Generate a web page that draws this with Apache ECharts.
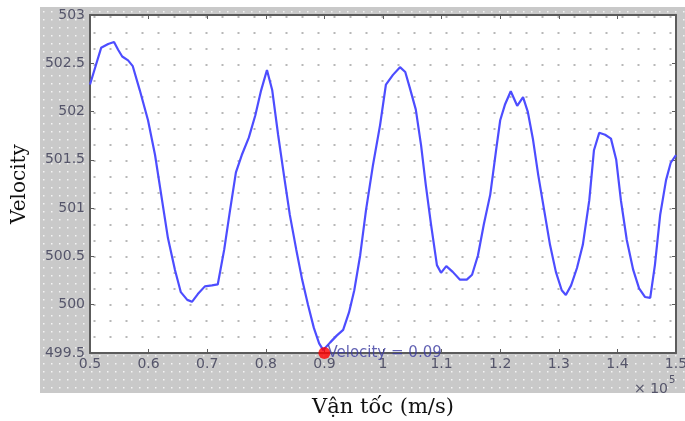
<!DOCTYPE html>
<html>
<head>
<meta charset="utf-8">
<script src="https://cdn.jsdelivr.net/npm/echarts@6/dist/echarts.min.js"></script>
<style>
  html, body { margin: 0; padding: 0; background: #ffffff; }
  #chart { width: 685px; height: 421px; }
</style>
</head>
<body>
<div id="chart"></div>
<script>
// Position (x 10^5) of each sample
const positions = [
  0.500, 0.510, 0.519, 0.531, 0.541, 0.548, 0.555, 0.565, 0.573, 0.585,
  0.599, 0.611, 0.623, 0.633, 0.645, 0.655, 0.666, 0.674, 0.684, 0.696,
  0.708, 0.718, 0.729, 0.739, 0.749, 0.759, 0.771, 0.782, 0.792, 0.802,
  0.811, 0.821, 0.831, 0.841, 0.852, 0.862, 0.872, 0.882, 0.891, 0.898,
  0.910, 0.921, 0.932, 0.942, 0.951, 0.961, 0.971, 0.983, 0.995, 1.005,
  1.017, 1.029, 1.038, 1.046, 1.056, 1.065, 1.073, 1.082, 1.092, 1.099,
  1.108, 1.119, 1.131, 1.143, 1.152, 1.162, 1.172, 1.183, 1.193, 1.200,
  1.208, 1.218, 1.229, 1.239, 1.247, 1.256, 1.265, 1.275, 1.285, 1.295,
  1.305, 1.312, 1.321, 1.331, 1.341, 1.352, 1.360, 1.369, 1.379, 1.389,
  1.398, 1.406, 1.416, 1.427, 1.437, 1.447, 1.456, 1.464, 1.473, 1.483,
  1.491, 1.500
];

// Velocity at each sample
const velocity = [
  502.28, 502.48, 502.66, 502.70, 502.72, 502.64, 502.57, 502.53, 502.47, 502.22,
  501.91, 501.55, 501.08, 500.69, 500.36, 500.13, 500.05, 500.03, 500.11, 500.19,
  500.20, 500.21, 500.57, 500.98, 501.37, 501.55, 501.73, 501.96, 502.22, 502.43,
  502.22, 501.76, 501.34, 500.93, 500.57, 500.26, 500.00, 499.76, 499.60, 499.53,
  499.61, 499.68, 499.74, 499.92, 500.15, 500.51, 500.98, 501.45, 501.86, 502.28,
  502.38, 502.46, 502.41, 502.24, 502.02, 501.65, 501.24, 500.83, 500.41, 500.33,
  500.40, 500.34, 500.26, 500.26, 500.31, 500.51, 500.83, 501.14, 501.60, 501.91,
  502.07, 502.21, 502.06, 502.15, 502.00, 501.71, 501.34, 500.98, 500.62, 500.34,
  500.15, 500.10, 500.20, 500.38, 500.62, 501.08, 501.60, 501.78, 501.76, 501.72,
  501.50, 501.08, 500.67, 500.36, 500.17, 500.08, 500.07, 500.41, 500.93, 501.29,
  501.47, 501.55
];

// Axis ranges and tick spacing
const xMin = 0.5, xMax = 1.5, xStep = 0.1;
const yMin = 499.5, yMax = 503, yStep = 0.5;

// Data cursor
const cursorPoint = [0.9, 499.5];
const cursorValue = 0.09;

const xTitle = 'Vận tốc (m/s)';
const yTitle = 'Velocity';

// Small repeating dot textures for the panels
function dotPattern(size, dx, dy, dotSize, bg, dot) {
  const c = document.createElement('canvas');
  c.width = size; c.height = size;
  const g = c.getContext('2d');
  g.fillStyle = bg;
  g.fillRect(0, 0, size, size);
  g.fillStyle = dot;
  g.fillRect(dx, dy, dotSize, dotSize);
  return { type: 'pattern', image: c, repeat: 'repeat' };
}

const plotTexture = dotPattern(16, 13.5, 0, 2, '#ffffff', '#b8b8b8');
const frameTexture = dotPattern(8, 3, 3, 1.5, '#c9c9c9', '#f4f4f4');

const tickFont = 'DejaVu Sans, Verdana, sans-serif';
const titleFont = 'DejaVu Serif, Liberation Serif, serif';
const tickColor = '#55556a';
const axisColor = '#5c5c5c';

const chart = echarts.init(document.getElementById('chart'), null, { renderer: 'canvas' });

const series = positions.map((x, i) => [x, velocity[i]]);

chart.setOption({
  backgroundColor: '#ffffff',
  animation: false,
  graphic: [
    {
      type: 'rect',
      z: -10,
      silent: true,
      shape: { x: 40, y: 7, width: 645, height: 386 },
      style: { fill: frameTexture }
    },
    {
      type: 'text',
      z: 10,
      left: 634,
      top: 375,
      style: {
        text: '{b|× 10}{s|5}',
        rich: {
          b: { fontFamily: tickFont, fontSize: 14, fill: tickColor, verticalAlign: 'bottom', padding: [7, 0, 0, 0] },
          s: { fontFamily: tickFont, fontSize: 10, fill: tickColor, verticalAlign: 'top', padding: [0, 0, 9, 1] }
        }
      }
    }
  ],
  grid: {
    left: 90, right: 9, top: 15, bottom: 68,
    outerBoundsMode: 'none',
    containLabel: false,
    show: true,
    backgroundColor: plotTexture,
    borderWidth: 0
  },
  xAxis: [
    {
      type: 'value',
      min: xMin, max: xMax, interval: xStep,
      position: 'bottom',
      name: xTitle,
      nameLocation: 'middle',
      nameGap: 44,
      nameTextStyle: { fontFamily: titleFont, fontSize: 21, color: '#111111' },
      axisLine: { show: true, onZero: false, lineStyle: { color: axisColor, width: 2 } },
      axisTick: { show: true, inside: true, length: 4, lineStyle: { color: axisColor } },
      axisLabel: { color: tickColor, fontSize: 14, fontFamily: tickFont, margin: 4 },
      splitLine: { show: false }
    },
    {
      type: 'value',
      min: xMin, max: xMax, interval: xStep,
      position: 'top',
      axisLine: { show: true, onZero: false, lineStyle: { color: axisColor, width: 2 } },
      axisTick: { show: true, inside: true, length: 4, lineStyle: { color: axisColor } },
      axisLabel: { show: false },
      splitLine: { show: false }
    }
  ],
  yAxis: [
    {
      type: 'value',
      min: yMin, max: yMax, interval: yStep,
      position: 'left',
      name: yTitle,
      nameLocation: 'middle',
      nameGap: 60,
      nameRotate: 90,
      nameTextStyle: { fontFamily: titleFont, fontSize: 20, color: '#111111' },
      axisLine: { show: true, onZero: false, lineStyle: { color: axisColor, width: 2 } },
      axisTick: { show: true, inside: true, length: 4, lineStyle: { color: axisColor } },
      axisLabel: { color: tickColor, fontSize: 14, fontFamily: tickFont, margin: 5 },
      splitLine: { show: false }
    },
    {
      type: 'value',
      min: yMin, max: yMax, interval: yStep,
      position: 'right',
      axisLine: { show: true, onZero: false, lineStyle: { color: axisColor, width: 2 } },
      axisTick: { show: true, inside: true, length: 4, lineStyle: { color: axisColor } },
      axisLabel: { show: false },
      splitLine: { show: false }
    }
  ],
  series: [
    {
      type: 'line',
      data: series,
      xAxisIndex: 0,
      yAxisIndex: 0,
      showSymbol: false,
      smooth: false,
      lineStyle: { color: '#4d4dff', width: 2.2 },
      z: 3
    },
    {
      type: 'scatter',
      data: [cursorPoint],
      clip: false,
      symbol: 'circle',
      symbolSize: 12,
      itemStyle: { color: '#ff0000' },
      z: 5,
      label: {
        show: true,
        position: 'right',
        distance: -3,
        formatter: 'Velocity = ' + cursorValue,
        color: '#3b3ba0',
        fontSize: 15,
        fontFamily: tickFont
      }
    }
  ]
});
</script>
</body>
</html>
